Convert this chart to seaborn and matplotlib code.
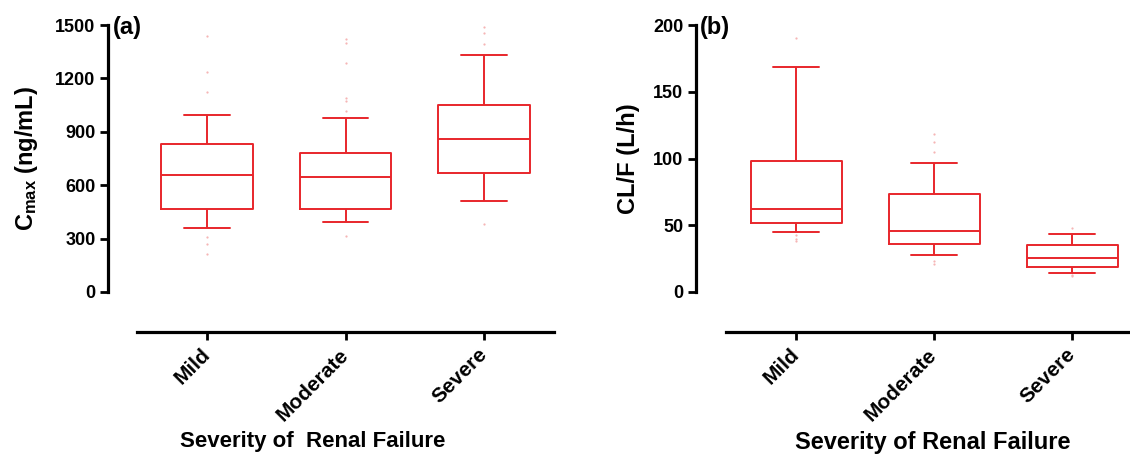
import pandas as pd
import matplotlib
matplotlib.use('Agg')
import matplotlib.pyplot as plt
import seaborn as sns

# Five-number summaries (min, Q1, median, Q3, max)
groups = ['Mild', 'Moderate', 'Severe']
cmax_mild = [361, 465, 657, 830, 994]
cmax_moderate = [391, 465, 646, 781, 979]
cmax_severe = [511, 670, 861, 1051, 1331]
clf_mild = [45.2, 51.9, 62.0, 98.4, 168.6]
clf_moderate = [27.4, 36.1, 45.9, 73.5, 96.6]
clf_severe = [14.3, 19.1, 25.3, 34.9, 43.4]

# faint individual points visible behind the boxes
cmax_dots_mild = [1438, 1238, 1125, 309, 271, 212]
cmax_dots_moderate = [1420, 1401, 1288, 1092, 1073, 1017, 315]
cmax_dots_severe = [1489, 1457, 1395, 384]
clf_dots_mild = [190, 43, 40, 38]
clf_dots_moderate = [118, 112, 105, 97, 23, 21]
clf_dots_severe = [48, 13, 12]

yticks_a = [0, 300, 600, 900, 1200, 1500]
yticks_b = [0, 50, 100, 150, 200]


def long_form(arrays, name):
    rows = []
    for g, vals in zip(groups, arrays):
        for v in vals:
            rows.append({'Severity': g, name: v})
    return pd.DataFrame(rows)


df_cmax = long_form([cmax_mild, cmax_moderate, cmax_severe], 'Cmax')
df_clf = long_form([clf_mild, clf_moderate, clf_severe], 'CLF')
dots_cmax = long_form([cmax_dots_mild, cmax_dots_moderate, cmax_dots_severe], 'Cmax')
dots_clf = long_form([clf_dots_mild, clf_dots_moderate, clf_dots_severe], 'CLF')

sns.set_style('ticks')
plt.rcParams['font.family'] = ['Liberation Sans', 'DejaVu Sans']
plt.rcParams['font.weight'] = 'bold'
plt.rcParams['axes.labelweight'] = 'bold'
plt.rcParams['text.color'] = 'black'
plt.rcParams['axes.labelcolor'] = 'black'
plt.rcParams['xtick.color'] = 'black'
plt.rcParams['ytick.color'] = 'black'
plt.rcParams['axes.edgecolor'] = 'black'
plt.rcParams['mathtext.fontset'] = 'custom'
plt.rcParams['mathtext.rm'] = 'Liberation Sans:bold'
plt.rcParams['mathtext.bf'] = 'Liberation Sans:bold'
plt.rcParams['mathtext.default'] = 'bf'

red = '#e8262b'
W, H = 1130, 455
fig = plt.figure(figsize=(W / 100, H / 100), dpi=100)

bottom = (H - 292) / H
height = 267 / H
ax_a = fig.add_axes([108 / W, bottom, (554 - 108) / W, height])
ax_b = fig.add_axes([696 / W, bottom, (1130 - 696) / W, height])

panels = [
    (ax_a, df_cmax, dots_cmax, 'Cmax', yticks_a, 'C$_{max}$ (ng/mL)', '(a)',
     'Severity of  Renal Failure', 16, (-0.715, 2.505), -0.505, -0.152, 0.46),
    (ax_b, df_clf, dots_clf, 'CLF', yticks_b, 'CL/F (L/h)', '(b)',
     'Severity of Renal Failure', 17, (-0.725, 2.42), -0.507, -0.13, 0.546),
]

for (ax, df, dots, col, yt, ylab, tag, xlab, xsize, xlim, xstart, ylx, xlx) in panels:
    sns.stripplot(data=dots, x='Severity', y=col, order=groups, jitter=False,
                  size=1.6, color='#f6b5b5', ax=ax, zorder=1)
    sns.boxplot(data=df, x='Severity', y=col, order=groups, whis=(0, 100),
                fill=False, color=red, linecolor=red, linewidth=1.4,
                width=0.66, ax=ax, zorder=2)
    ax.set_xlim(*xlim)
    ax.set_ylim(yt[0], yt[-1])
    for s in ['top', 'right']:
        ax.spines[s].set_visible(False)
    ax.spines['left'].set_linewidth(2.3)
    ax.spines['bottom'].set_linewidth(2.3)
    ax.spines['bottom'].set_position(('outward', 29))
    ax.spines['bottom'].set_bounds(xstart, xlim[1])
    ax.tick_params(axis='y', length=6, width=2, pad=3, labelsize=13)
    ax.tick_params(axis='x', length=6, width=2, pad=8, labelsize=15,
                   labelrotation=45)
    ax.set_yticks(yt)
    ax.set_yticklabels([str(t) for t in yt], fontsize=13, fontweight='bold')
    ax.set_xticks(range(len(groups)))
    ax.set_xticklabels(groups, fontsize=15, fontweight='bold', rotation=45,
                       ha='right', va='center', rotation_mode='anchor')
    ax.set_ylabel(ylab, fontsize=17, fontweight='bold')
    ax.yaxis.set_label_coords(ylx, 0.5)
    ax.set_xlabel(xlab, fontsize=xsize, fontweight='bold')
    ax.xaxis.set_label_coords(xlx, -0.52)
    ax.text(0.01, 0.99, tag, transform=ax.transAxes, fontsize=17,
            fontweight='bold', ha='left', va='center')

fig.savefig('out.png', dpi=100)
